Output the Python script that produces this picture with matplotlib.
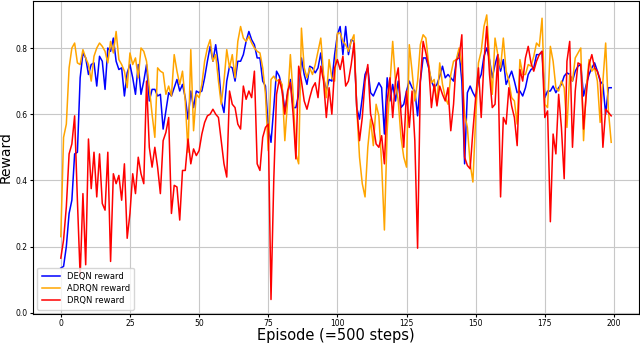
import numpy as np
import matplotlib
matplotlib.use('Agg')
import matplotlib.pyplot as plt

# reward per episode
deqn = [0.135, 0.14, 0.20, 0.30, 0.34, 0.48, 0.485, 0.71, 0.785, 0.77,
        0.72, 0.75, 0.755, 0.685, 0.775, 0.76, 0.675, 0.80, 0.79, 0.83,
        0.76, 0.735, 0.74, 0.655, 0.725, 0.75, 0.71, 0.66, 0.75, 0.66,
        0.70, 0.75, 0.64, 0.675, 0.675, 0.655, 0.66, 0.555, 0.61, 0.665,
        0.655, 0.68, 0.705, 0.67, 0.69, 0.65, 0.585, 0.67, 0.62, 0.67,
        0.665, 0.67, 0.71, 0.76, 0.805, 0.76, 0.81, 0.75, 0.64, 0.605,
        0.70, 0.745, 0.74, 0.70, 0.76, 0.76, 0.78, 0.82, 0.85, 0.825,
        0.81, 0.77, 0.77, 0.70, 0.685, 0.56, 0.515, 0.62, 0.73, 0.715,
        0.68, 0.61, 0.66, 0.705, 0.62, 0.62, 0.66, 0.77, 0.72, 0.69,
        0.745, 0.74, 0.725, 0.74, 0.785, 0.71, 0.67, 0.705, 0.70, 0.78,
        0.84, 0.865, 0.78, 0.865, 0.78, 0.825, 0.82, 0.62, 0.585, 0.65,
        0.72, 0.74, 0.665, 0.655, 0.675, 0.695, 0.68, 0.54, 0.71, 0.64,
        0.69, 0.64, 0.70, 0.62, 0.63, 0.67, 0.70, 0.68, 0.67, 0.595,
        0.70, 0.77, 0.77, 0.74, 0.70, 0.68, 0.69, 0.715, 0.745, 0.71,
        0.72, 0.71, 0.70, 0.76, 0.79, 0.70, 0.45, 0.665, 0.685, 0.665,
        0.65, 0.70, 0.72, 0.775, 0.80, 0.765, 0.71, 0.75, 0.78, 0.73,
        0.765, 0.69, 0.71, 0.73, 0.70, 0.665, 0.67, 0.655, 0.68, 0.72,
        0.735, 0.74, 0.78, 0.78, 0.79, 0.65, 0.67, 0.67, 0.685, 0.665,
        0.68, 0.69, 0.715, 0.725, 0.72, 0.70, 0.73, 0.745, 0.75, 0.655,
        0.69, 0.72, 0.74, 0.755, 0.73, 0.70, 0.69, 0.60, 0.68, 0.68]

adrqn = [0.23, 0.53, 0.57, 0.74, 0.80, 0.815, 0.755, 0.75, 0.795, 0.77,
         0.75, 0.70, 0.775, 0.80, 0.815, 0.805, 0.79, 0.755, 0.82, 0.785,
         0.85, 0.765, 0.75, 0.73, 0.68, 0.785, 0.75, 0.77, 0.71, 0.80,
         0.79, 0.76, 0.68, 0.60, 0.53, 0.74, 0.73, 0.725, 0.66, 0.685,
         0.655, 0.78, 0.73, 0.69, 0.73, 0.64, 0.485, 0.795, 0.55, 0.66,
         0.65, 0.69, 0.76, 0.80, 0.825, 0.76, 0.78, 0.70, 0.63, 0.70,
         0.795, 0.74, 0.78, 0.71, 0.82, 0.865, 0.83, 0.82, 0.835, 0.815,
         0.80, 0.79, 0.785, 0.74, 0.66, 0.49, 0.705, 0.715, 0.70, 0.705,
         0.69, 0.52, 0.64, 0.78, 0.66, 0.48, 0.45, 0.86, 0.74, 0.71,
         0.74, 0.72, 0.75, 0.79, 0.83, 0.72, 0.65, 0.765, 0.71, 0.70,
         0.845, 0.845, 0.82, 0.81, 0.79, 0.82, 0.84, 0.62, 0.47, 0.39,
         0.35, 0.50, 0.585, 0.505, 0.63, 0.595, 0.45, 0.25, 0.55, 0.69,
         0.82, 0.70, 0.64, 0.53, 0.47, 0.44, 0.81, 0.73, 0.64, 0.70,
         0.81, 0.84, 0.83, 0.75, 0.695, 0.705, 0.63, 0.755, 0.69, 0.65,
         0.63, 0.72, 0.76, 0.765, 0.80, 0.75, 0.60, 0.56, 0.45, 0.395,
         0.59, 0.755, 0.79, 0.865, 0.90, 0.77, 0.66, 0.83, 0.78, 0.74,
         0.83, 0.73, 0.70, 0.65, 0.64, 0.57, 0.765, 0.72, 0.72, 0.75,
         0.745, 0.775, 0.815, 0.805, 0.89, 0.63, 0.62, 0.805, 0.76, 0.68,
         0.67, 0.70, 0.68, 0.56, 0.72, 0.70, 0.77, 0.785, 0.80, 0.52,
         0.68, 0.765, 0.73, 0.74, 0.70, 0.575, 0.70, 0.815, 0.61, 0.515]

drqn = [0.165, 0.22, 0.32, 0.48, 0.51, 0.595, 0.34, 0.11, 0.36, 0.145,
        0.525, 0.375, 0.485, 0.35, 0.48, 0.33, 0.31, 0.485, 0.155, 0.42,
        0.39, 0.415, 0.34, 0.45, 0.225, 0.30, 0.42, 0.36, 0.47, 0.42,
        0.39, 0.70, 0.50, 0.44, 0.50, 0.44, 0.36, 0.52, 0.545, 0.59,
        0.30, 0.385, 0.38, 0.28, 0.43, 0.43, 0.525, 0.45, 0.495, 0.475,
        0.49, 0.54, 0.575, 0.595, 0.60, 0.615, 0.60, 0.59, 0.52, 0.45,
        0.41, 0.67, 0.63, 0.62, 0.57, 0.555, 0.685, 0.645, 0.67, 0.65,
        0.73, 0.45, 0.43, 0.53, 0.56, 0.57, 0.04, 0.40, 0.66, 0.705,
        0.67, 0.60, 0.67, 0.695, 0.60, 0.465, 0.745, 0.70, 0.64, 0.615,
        0.65, 0.68, 0.695, 0.65, 0.745, 0.70, 0.59, 0.68, 0.60, 0.74,
        0.765, 0.735, 0.775, 0.685, 0.70, 0.75, 0.815, 0.62, 0.52, 0.59,
        0.70, 0.75, 0.60, 0.565, 0.51, 0.50, 0.535, 0.45, 0.64, 0.71,
        0.59, 0.70, 0.74, 0.60, 0.50, 0.67, 0.56, 0.67, 0.52, 0.195,
        0.70, 0.82, 0.785, 0.745, 0.62, 0.69, 0.625, 0.685, 0.66, 0.64,
        0.68, 0.55, 0.63, 0.765, 0.77, 0.84, 0.47, 0.445, 0.435, 0.55,
        0.65, 0.74, 0.59, 0.76, 0.865, 0.72, 0.62, 0.63, 0.78, 0.35,
        0.59, 0.57, 0.68, 0.625, 0.59, 0.505, 0.735, 0.70, 0.77, 0.805,
        0.755, 0.73, 0.76, 0.78, 0.79, 0.59, 0.61, 0.275, 0.54, 0.48,
        0.66, 0.56, 0.405, 0.76, 0.82, 0.50, 0.67, 0.755, 0.75, 0.555,
        0.66, 0.75, 0.78, 0.74, 0.73, 0.705, 0.50, 0.615, 0.605, 0.595]

episodes = np.arange(len(deqn))

fig, ax = plt.subplots(figsize=(6.4, 3.44), dpi=100)
fig.subplots_adjust(left=0.052, right=0.998, top=0.998, bottom=0.088)

ax.plot(episodes, deqn, color='blue', linewidth=1.1, label='DEQN reward')
ax.plot(episodes, adrqn, color='orange', linewidth=1.1, label='ADRQN reward')
ax.plot(episodes, drqn, color='red', linewidth=1.1, label='DRQN reward')

ax.set_xticks([0, 25, 50, 75, 100, 125, 150, 175, 200])
ax.set_yticks([0.0, 0.2, 0.4, 0.6, 0.8])
ax.tick_params(labelsize=5.5, length=2.5, pad=1.5)
ax.grid(True, color='#c8c8c8', linewidth=0.8)
ax.set_ylim(-0.003, 0.943)

ax.set_xlabel('Episode (=500 steps)', fontsize=10.5, labelpad=0)
ax.set_ylabel('Reward', fontsize=10, labelpad=2)
ax.legend(loc='lower left', fontsize=6, handlelength=2.2, borderpad=0.5,
          labelspacing=0.4)

plt.savefig('out.png', dpi=100)
plt.close()
